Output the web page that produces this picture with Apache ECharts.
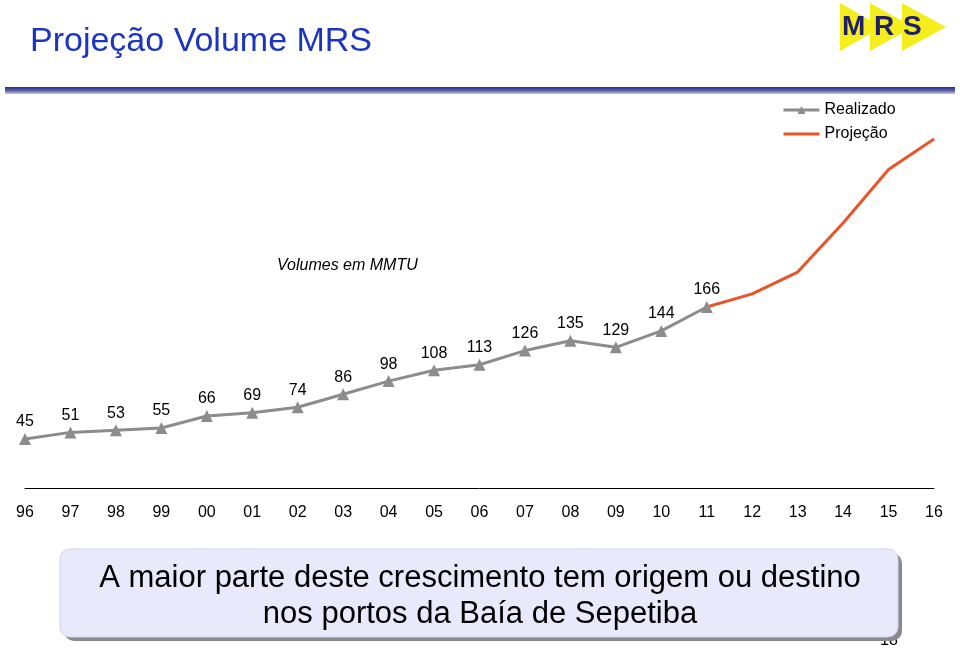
<!DOCTYPE html>
<html><head><meta charset="utf-8">
<script src="https://cdn.jsdelivr.net/npm/echarts@6/dist/echarts.min.js"></script>
<style>html,body{margin:0;padding:0;background:#fff}#c{width:960px;height:650px}</style>
</head><body><div id="c"></div>
<script>
const years = ['96','97','98','99','00','01','02','03','04','05','06','07','08','09','10','11','12','13','14','15','16'];
const realizado = [45,51,53,55,66,69,74,86,98,108,113,126,135,129,144,166,null,null,null,null,null];
const projecao = [null,null,null,null,null,null,null,null,null,null,null,null,null,null,null,166,178,198,243,292,320];
const titleText = 'Projeção Volume MRS';
const unitText = 'Volumes em MMTU';
const noteLines = ['A maior parte deste crescimento tem origem ou destino','nos portos da Baía de Sepetiba'];
const pageNo = '18';

const FONT = '"Liberation Sans", Arial, sans-serif';
const chart = echarts.init(document.getElementById('c'), null, {renderer:'canvas'});
chart.setOption({
  animation:false,
  backgroundColor:'#fff',
  textStyle:{fontFamily:FONT},
  grid:{left:25,right:26,top:139,bottom:162,containLabel:false},
  legend:{
    orient:'vertical', left:777, top:97, itemWidth:36, itemHeight:10, itemGap:8,
    textStyle:{fontSize:16,color:'#000',fontFamily:FONT},
    data:[
      {name:'Realizado', lineStyle:{width:3}},
      {name:'Projeção', icon:'path://M0,0 H36 V3 H0 Z', itemStyle:{color:'#e8552a'}}
    ]
  },
  xAxis:{
    type:'category', data:years, boundaryGap:false,
    axisLine:{show:true,lineStyle:{color:'#000',width:1}},
    axisTick:{show:false},
    axisLabel:{color:'#000',fontSize:16,margin:17,fontFamily:FONT},
    splitLine:{show:false}
  },
  yAxis:{type:'value',min:0,max:320,show:false,splitLine:{show:false}},
  series:[
    {name:'Realizado',type:'line',data:realizado,symbol:'triangle',symbolSize:12,
     showAllSymbol:true,
     lineStyle:{color:'#8c8c8c',width:3},itemStyle:{color:'#8c8c8c'},
     label:{show:true,position:'top',distance:3,color:'#000',fontSize:16,fontFamily:FONT},
     z:3},
    {name:'Projeção',type:'line',data:projecao,symbol:'none',
     lineStyle:{color:'#e8552a',width:3},itemStyle:{color:'#e8552a'},z:2}
  ],
  graphic:[
    {type:'text',left:30,top:25,style:{text:titleText,fontSize:34,fill:'#1c34c4',fontFamily:FONT}},
    {type:'rect',shape:{x:5,y:87,width:950,height:7},
     style:{fill:new echarts.graphic.LinearGradient(0,0,0,1,[{offset:0,color:'#2a2e86'},{offset:0.5,color:'#5a5fa8'},{offset:1,color:'#c4c7e4'}])}},
    {type:'polygon',shape:{points:[[840,3],[840,51],[882,27]]},style:{fill:'#f5ee1c'}},
    {type:'polygon',shape:{points:[[870,3],[870,51],[913,27]]},style:{fill:'#f5ee1c'}},
    {type:'polygon',shape:{points:[[902,3],[902,51],[946,27]]},style:{fill:'#f5ee1c'}},
    {type:'text',x:842,y:13,style:{text:'M',fontSize:28,fontWeight:'bold',fill:'#1e1f6a',fontFamily:FONT}},
    {type:'text',x:874,y:13,style:{text:'R',fontSize:28,fontWeight:'bold',fill:'#1e1f6a',fontFamily:FONT}},
    {type:'text',x:903,y:13,style:{text:'S',fontSize:28,fontWeight:'bold',fill:'#1e1f6a',fontFamily:FONT}},
    {type:'text',x:277,y:258,style:{text:unitText,fontSize:16,fontStyle:'italic',fill:'#000',fontFamily:FONT}},
    {type:'rect',shape:{x:64,y:553,width:838,height:88,r:10},style:{fill:'#8a8a8a'}},
    {type:'rect',shape:{x:60,y:549,width:838,height:88,r:10},style:{fill:'#e8eafb',stroke:'#d0d3ee',lineWidth:1}},
    {type:'text',x:480,y:578,style:{text:noteLines[0],fontSize:31,fill:'#000',align:'center',verticalAlign:'middle',fontFamily:FONT}},
    {type:'text',x:480,y:614,style:{text:noteLines[1],fontSize:31,fill:'#000',align:'center',verticalAlign:'middle',fontFamily:FONT}},
    {type:'text',x:880,y:633,style:{text:pageNo,fontSize:16,fill:'#000',fontFamily:FONT}, z:-1}
  ]
});
</script></body></html>
